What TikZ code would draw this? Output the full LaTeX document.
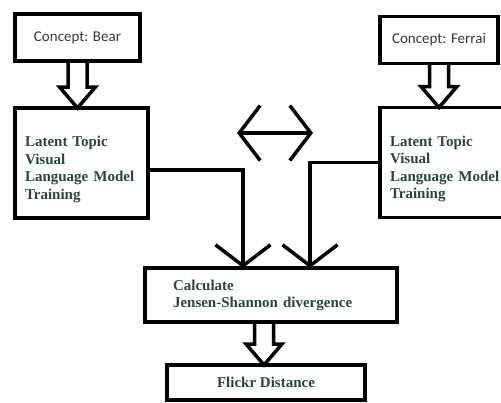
\documentclass[tikz,border=0pt]{standalone}
\usepackage{fontspec}
\setmainfont{Liberation Serif}
\newfontfamily\conceptfont{Carlito}
\usepackage{tikz}
\usetikzlibrary{arrows.meta,calc}
\definecolor{txtgreen}{RGB}{38,72,56}
\definecolor{txtgray}{RGB}{55,55,55}
\tikzset{box/.style={draw,line width=3.5pt,inner sep=0pt,outer sep=0pt},
  concept/.style={box,minimum width=#1,minimum height=47pt,text=txtgray,font=\conceptfont\fontsize{15}{17}\selectfont},
  latent/.style={box,text width=#1,inner xsep=10pt,minimum height=110pt,align=left,text=txtgreen,font=\bfseries\fontsize{15}{17.5}\selectfont,
    text height=23pt},
  calcbox/.style={box,text width=196pt,inner xsep=28pt,minimum height=54pt,align=left,text=txtgreen,font=\bfseries\fontsize{15}{17}\selectfont},
  result/.style={box,minimum width=198pt,minimum height=35pt,text=txtgreen,font=\bfseries\fontsize{15}{17}\selectfont},
  conn/.style={line width=3.5pt},
  fatarr/.style={line width=3.5pt,line join=miter}}
% hollow block arrow from one box down to the next
\newcommand{\fatarrow}[3][0pt]{\draw[fatarr] let \p1=(#2.south), \p2=(#3.north) in
  (\x1+#1-9.5pt,\y1) -- (\x1+#1-9.5pt,\y2+21pt) -- (\x1+#1-18pt,\y2+21pt) -- (\x1+#1,\y2)
  -- (\x1+#1+18pt,\y2+21pt) -- (\x1+#1+9.5pt,\y2+21pt) -- (\x1+#1+9.5pt,\y1);}

\begin{document}
\begin{tikzpicture}[x=1pt,y=-1pt,>={Straight Barb[length=21pt,width=55pt]}]
\useasboundingbox (0,0) rectangle (501,402);
% --- two concepts, each with its own model
\node[concept=125pt] (bear) at (77.5,37.5) {Concept: Bear};
\node[concept=118pt] (ferrai) at (439,40) {Concept: Ferrai};
\node[latent=113pt] (latL) at (81.5,163) {Latent Topic\\Visual\\Language Model\\Training};
\node[latent=120pt] (latR) at (450,162.5) {Latent Topic\\Visual\\Language Model\\Training};
\fatarrow{bear}{latL}
\fatarrow{ferrai}{latR}
% --- compare the two
\coordinate (dl) at (237,133); \coordinate (dr) at (313,133);
\draw[conn,<->] (dl) -- (dr);
\node[calcbox] (calc) at (271,295) {Calculate\\Jensen-Shannon divergence};
\draw[conn,->] ([yshift=-7pt]latL.east) -| ([xshift=-28pt]calc.north);
\draw[conn,->] (latR.west) -| ([xshift=39pt]calc.north);
\node[result] (flickr) at (266,382.5) {Flickr Distance};
\fatarrow[-7pt]{calc}{flickr}
\end{tikzpicture}
\end{document}
